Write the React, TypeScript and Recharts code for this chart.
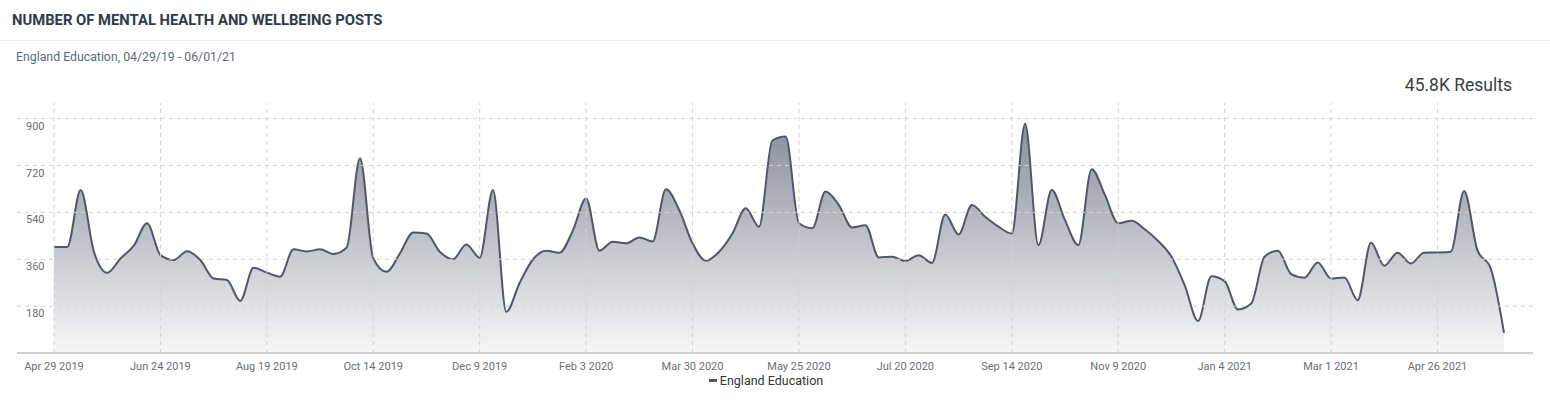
import { AreaChart, Area, XAxis, YAxis, ReferenceLine } from 'recharts';

// weekly post counts, England Education, week of Apr 29 2019 -> May 31 2021
const posts = [
  407, 407, 626, 389, 308, 363, 412, 498, 376, 357,
  391, 357, 286, 280, 200, 327, 309, 293, 398, 390,
  398, 380, 405, 748, 363, 312, 382, 463, 459, 389,
  360, 417, 366, 626, 158, 269, 359, 393, 385, 470,
  593, 393, 427, 421, 444, 428, 629, 549, 421, 354,
  389, 459, 556, 485, 816, 831, 498, 479, 620, 568,
  482, 491, 367, 370, 353, 375, 346, 532, 455, 568,
  523, 485, 459, 880, 414, 626, 510, 414, 706, 607,
  498, 508, 475, 430, 370, 260, 123, 295, 276, 167,
  190, 370, 393, 303, 289, 348, 286, 290, 203, 423,
  335, 385, 344, 385, 386, 389, 622, 395, 325, 77,
];

const xTicks = [
  'Apr 29 2019', 'Jun 24 2019', 'Aug 19 2019', 'Oct 14 2019', 'Dec 9 2019',
  'Feb 3 2020', 'Mar 30 2020', 'May 25 2020', 'Jul 20 2020', 'Sep 14 2020',
  'Nov 9 2020', 'Jan 4 2021', 'Mar 1 2021', 'Apr 26 2021',
];

const yTicks = [180, 360, 540, 720, 900];

const MONTHS = ['Jan', 'Feb', 'Mar', 'Apr', 'May', 'Jun', 'Jul', 'Aug', 'Sep', 'Oct', 'Nov', 'Dec'];
const START = Date.UTC(2019, 3, 29);

const weeks = posts.map((_, i) => {
  const d = new Date(START + i * 7 * 86400000);
  return `${MONTHS[d.getUTCMonth()]} ${d.getUTCDate()} ${d.getUTCFullYear()}`;
});

const data = weeks.map((week, i) => ({ week, posts: posts[i] }));

const LINE = '#4f5769';
const GRID = '#d2d2d2';

function YTick({ y, payload }: any) {
  return (
    <text x={26} y={y + 11} fill="#6b6f75" fontSize={11} textAnchor="start">
      {payload.value}
    </text>
  );
}

function XTick({ x, y, payload }: any) {
  return (
    <text x={x} y={y + 9} fill="#6b6f75" fontSize={11} textAnchor="middle">
      {payload.value}
    </text>
  );
}

export default function App() {
  return (
    <div
      style={{
        position: 'absolute', left: 0, top: 0, width: 1550, height: 400,
        background: '#fff', fontFamily: 'Roboto, sans-serif',
      }}
    >
      <div style={{ position: 'absolute', left: 12, top: 11, fontSize: 14.8, fontWeight: 700, color: '#2f3b47' }}>
        NUMBER OF MENTAL HEALTH AND WELLBEING POSTS
      </div>
      <div style={{ position: 'absolute', left: 0, top: 40, width: 1550, height: 1, background: '#eceef0' }} />
      <div style={{ position: 'absolute', left: 16, top: 50, fontSize: 12.3, color: '#5c6b78' }}>
        England Education, 04/29/19 - 06/01/21
      </div>
      <div style={{ position: 'absolute', right: 38, top: 75, fontSize: 17.5, color: '#3a3f44' }}>
        45.8K Results
      </div>

      <div style={{ position: 'absolute', left: 0, top: 0 }}>
        <AreaChart
          width={1550}
          height={400}
          data={data}
          margin={{ top: 103, right: 17, left: 16, bottom: 27 }}
        >
          <defs>
            <linearGradient id="fillGrad" x1="0" y1="0" x2="0" y2="1">
              <stop offset="0%" stopColor="#5a6274" stopOpacity={0.72} />
              <stop offset="100%" stopColor="#5a6274" stopOpacity={0.05} />
            </linearGradient>
          </defs>
          <XAxis
            dataKey="week"
            ticks={xTicks}
            interval={0}
            height={20}
            padding={{ left: 37, right: 29 }}
            axisLine={{ stroke: '#cdd1d5', strokeWidth: 2 }}
            tickLine={false}
            tick={<XTick />}
          />
          <YAxis
            width={1}
            domain={[0, 960]}
            ticks={yTicks}
            interval={0}
            axisLine={false}
            tickLine={false}
            tick={<YTick />}
          />
          {yTicks.map((v) => (
            <ReferenceLine key={v} y={v} stroke={GRID} strokeDasharray="4 4" />
          ))}
          {xTicks.map((t) => (
            <ReferenceLine key={t} x={t} stroke={GRID} strokeDasharray="4 4" />
          ))}
          <Area
            type="monotone"
            dataKey="posts"
            stroke={LINE}
            strokeWidth={2}
            fill="url(#fillGrad)"
            fillOpacity={1}
            dot={false}
            activeDot={false}
            isAnimationActive={false}
          />
        </AreaChart>
      </div>

      <div
        style={{
          position: 'absolute', left: 0, top: 373, width: 1532, textAlign: 'center',
          fontSize: 12.5, color: '#333',
        }}
      >
        <span style={{ display: 'inline-block', width: 8, height: 3, background: LINE, verticalAlign: 'middle', marginRight: 3, marginTop: -2 }} />
        England Education
      </div>
    </div>
  );
}
